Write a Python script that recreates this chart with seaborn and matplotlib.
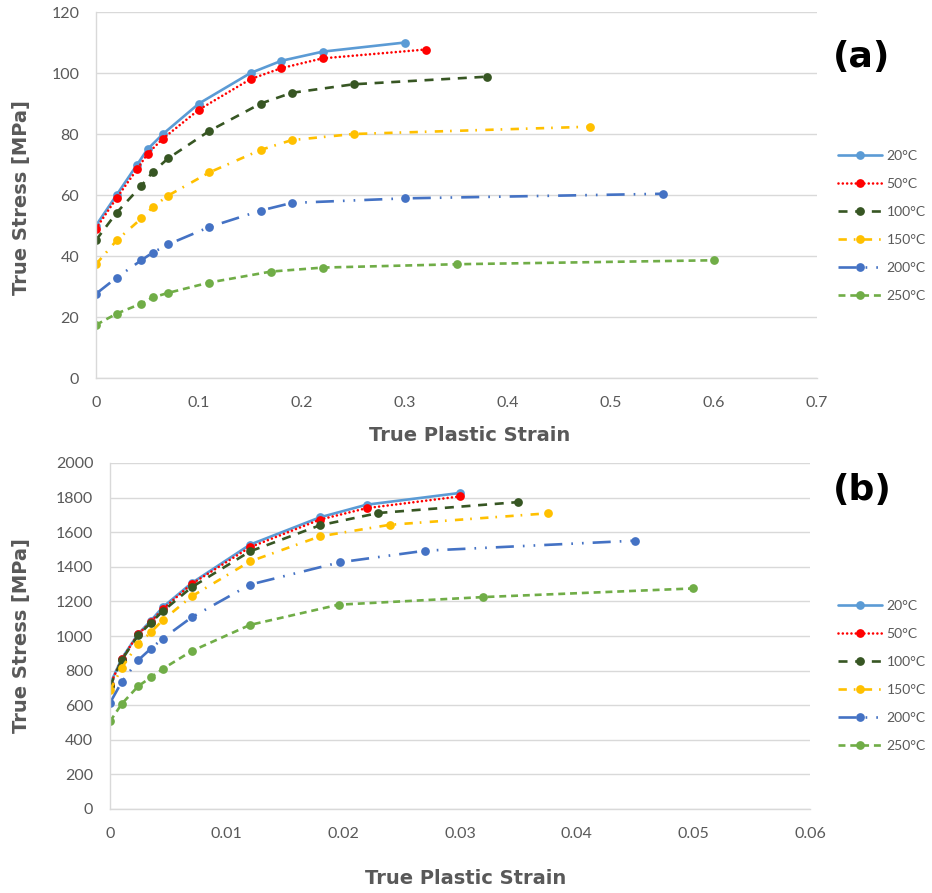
import matplotlib
matplotlib.use("Agg")
import matplotlib.pyplot as plt
import seaborn as sns
import pandas as pd

sns.set_theme(style="white")
plt.rcParams['font.family'] = ['Lato', 'DejaVu Sans']
plt.rcParams['lines.scale_dashes'] = False

temps = ["20°C", "50°C", "100°C", "150°C", "200°C", "250°C"]
colors = ["#5B9BD5", "#FF0000", "#375623", "#FFC000", "#4472C4", "#70AD47"]

# Panel (a)
a_x20 = [0, 0.02, 0.04, 0.05, 0.065, 0.10, 0.15, 0.18, 0.22, 0.30]
a_y20 = [50, 60, 70, 75, 80, 90, 100, 104, 107, 110]
a_x50 = [0, 0.02, 0.04, 0.05, 0.065, 0.10, 0.15, 0.18, 0.22, 0.32]
a_y50 = [49, 59, 68.5, 73.5, 78.5, 88, 98, 101.6, 104.8, 107.7]
a_x100 = [0, 0.02, 0.044, 0.055, 0.07, 0.11, 0.16, 0.19, 0.25, 0.38]
a_y100 = [45.2, 54.2, 63, 67.5, 72, 81, 90, 93.5, 96.3, 98.8]
a_x150 = [0, 0.02, 0.044, 0.055, 0.07, 0.11, 0.16, 0.19, 0.25, 0.48]
a_y150 = [37.3, 45.1, 52.3, 56, 59.8, 67.4, 74.8, 78, 80, 82.4]
a_x200 = [0, 0.02, 0.044, 0.055, 0.07, 0.11, 0.16, 0.19, 0.30, 0.55]
a_y200 = [27.6, 32.9, 38.6, 41.1, 43.8, 49.5, 54.9, 57.4, 58.9, 60.4]
a_x250 = [0, 0.02, 0.044, 0.055, 0.07, 0.11, 0.17, 0.22, 0.35, 0.60]
a_y250 = [17.4, 21.1, 24.4, 26.4, 27.9, 31.3, 34.9, 36.2, 37.3, 38.6]

# Panel (b)
b_x20 = [0, 0.001, 0.0024, 0.0035, 0.0045, 0.007, 0.012, 0.018, 0.022, 0.030]
b_y20 = [722, 869, 1011, 1088, 1165, 1306, 1528, 1686, 1759, 1827]
b_x50 = [0, 0.001, 0.0024, 0.0035, 0.0045, 0.007, 0.012, 0.018, 0.022, 0.030]
b_y50 = [714, 866, 1009, 1082, 1154, 1301, 1513, 1673, 1739, 1807]
b_x100 = [0, 0.001, 0.0024, 0.0035, 0.0045, 0.007, 0.012, 0.018, 0.023, 0.035]
b_y100 = [709, 861, 1003, 1076, 1142, 1282, 1489, 1640, 1711, 1774]
b_x150 = [0, 0.001, 0.0024, 0.0035, 0.0045, 0.007, 0.012, 0.018, 0.024, 0.0375]
b_y150 = [686, 815, 954, 1021, 1090, 1229, 1431, 1576, 1643, 1709]
b_x200 = [0, 0.001, 0.0024, 0.0035, 0.0045, 0.007, 0.012, 0.0197, 0.027, 0.045]
b_y200 = [613, 734, 859, 927, 984, 1108, 1297, 1426, 1493, 1551]
b_x250 = [0, 0.001, 0.0024, 0.0035, 0.0045, 0.007, 0.012, 0.0196, 0.032, 0.050]
b_y250 = [506, 607, 709, 761, 809, 913, 1064, 1181, 1225, 1275]

a_series = [(a_x20, a_y20), (a_x50, a_y50), (a_x100, a_y100),
            (a_x150, a_y150), (a_x200, a_y200), (a_x250, a_y250)]
b_series = [(b_x20, b_y20), (b_x50, b_y50), (b_x100, b_y100),
            (b_x150, b_y150), (b_x200, b_y200), (b_x250, b_y250)]

styles = [
    dict(linestyle="-"),
    dict(linestyle=(0, (0.01, 3.1)), dash_capstyle="round"),
    dict(linestyle=(0, (6.5, 5.5))),
    dict(linestyle=(0, (6.0, 5.0, 1.2, 6.0))),
    dict(linestyle=(0, (13.0, 6.5, 1.2, 6.5, 1.2, 6.5))),
    dict(linestyle=(0, (5.0, 3.5))),
]

W, H = 932, 893
fig = plt.figure(figsize=(W / 100, H / 100), dpi=100)
fig.patch.set_facecolor("white")

gray = "#595959"
gridc = "#D9D9D9"


def make_panel(rect, series, xlim, xticks, xlabels, ylim, yticks):
    ax = fig.add_axes(rect)
    for (xs, ys), name, c, st in zip(series, temps, colors, styles):
        df = pd.DataFrame({"x": xs, "y": ys})
        sns.lineplot(data=df, x="x", y="y", ax=ax, color=c, lw=1.9,
                     marker="o", markersize=6.3, markeredgewidth=0,
                     estimator=None, sort=False, label=name, **st)
    handles, labels = ax.get_legend_handles_labels()
    if ax.get_legend() is not None:
        ax.get_legend().remove()
    ax.set_xlim(*xlim)
    ax.set_ylim(*ylim)
    ax.set_xticks(xticks)
    ax.set_xticklabels(xlabels)
    ax.set_yticks(yticks)
    ax.set_yticklabels([str(v) for v in yticks])
    ax.set_xlabel("")
    ax.set_ylabel("")
    ax.grid(axis="y", color=gridc, lw=1.0)
    ax.grid(axis="x", visible=False)
    ax.set_axisbelow(True)
    for s in ["top", "right"]:
        ax.spines[s].set_visible(False)
    for s in ["left", "bottom"]:
        ax.spines[s].set_color(gridc)
        ax.spines[s].set_linewidth(1.0)
    ax.tick_params(axis="both", colors=gray, labelsize=11.5, length=0)
    ax.tick_params(axis="x", pad=13)
    ax.tick_params(axis="y", pad=12)
    return ax, handles, labels


ax1, h1, l1 = make_panel([96 / W, 1 - 378 / H, 721 / W, 366 / H], a_series,
                         (0, 0.7), [0, 0.1, 0.2, 0.3, 0.4, 0.5, 0.6, 0.7],
                         ["0", "0.1", "0.2", "0.3", "0.4", "0.5", "0.6", "0.7"],
                         (0, 120), [0, 20, 40, 60, 80, 100, 120])
ax2, h2, l2 = make_panel([110 / W, 1 - 809 / H, 700 / W, 346 / H], b_series,
                         (0, 0.06), [0, 0.01, 0.02, 0.03, 0.04, 0.05, 0.06],
                         ["0", "0.01", "0.02", "0.03", "0.04", "0.05", "0.06"],
                         (0, 2000), list(range(0, 2001, 200)))

leg_kw = dict(frameon=False, fontsize=10, handlelength=3.2, numpoints=1,
              labelspacing=1.15, handletextpad=0.3, labelcolor=gray,
              borderpad=0, borderaxespad=0)
fig.legend(h1, l1, loc="upper left", bbox_to_anchor=(838 / W, 1 - 150 / H), **leg_kw)
fig.legend(h2, l2, loc="upper left", bbox_to_anchor=(838 / W, 1 - 600 / H), **leg_kw)

lab_font = ['DejaVu Sans']
fig.text(470 / W, 1 - 435 / H, "True Plastic Strain", ha="center", va="center",
         fontsize=14, fontweight="bold", color=gray, family=lab_font)
fig.text(466 / W, 1 - 878 / H, "True Plastic Strain", ha="center", va="center",
         fontsize=14, fontweight="bold", color=gray, family=lab_font)
fig.text(22 / W, 1 - 198 / H, "True Stress [MPa]", ha="center", va="center",
         rotation=90, fontsize=14, fontweight="bold", color=gray, family=lab_font)
fig.text(22 / W, 1 - 636 / H, "True Stress [MPa]", ha="center", va="center",
         rotation=90, fontsize=14, fontweight="bold", color=gray, family=lab_font)

fig.text(862 / W, 1 - 57 / H, "(a)", ha="center", va="center",
         fontsize=26, fontweight="bold", color="black", family=lab_font)
fig.text(862 / W, 1 - 490 / H, "(b)", ha="center", va="center",
         fontsize=26, fontweight="bold", color="black", family=lab_font)

fig.savefig("out.png", dpi=100, facecolor="white")
